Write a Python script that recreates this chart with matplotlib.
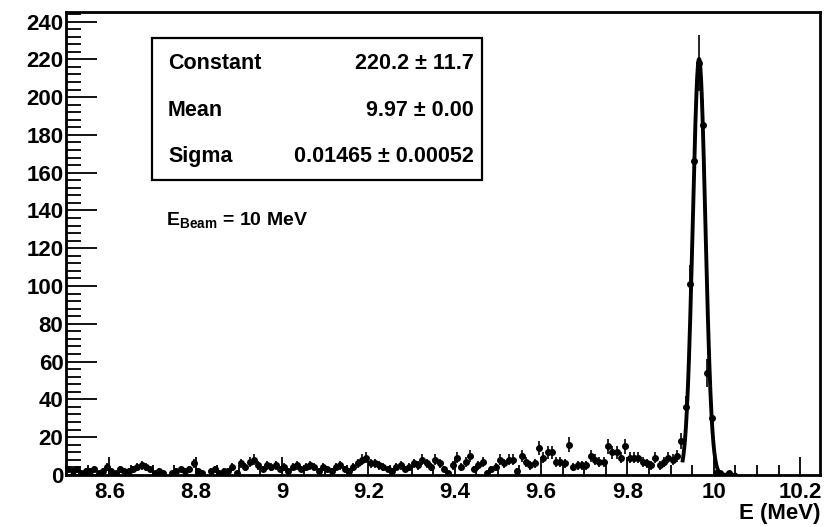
import numpy as np
import matplotlib
matplotlib.use("Agg")
import matplotlib.pyplot as plt
import matplotlib.ticker as ticker
from matplotlib.patches import Rectangle

plt.rcParams['font.family'] = ['Liberation Sans', 'DejaVu Sans']
plt.rcParams['font.weight'] = 'bold'
plt.rcParams['mathtext.fontset'] = 'custom'
plt.rcParams['mathtext.rm'] = 'Liberation Sans:bold'
plt.rcParams['mathtext.bf'] = 'Liberation Sans:bold'

# histogram: 175 bins of 0.01 MeV from 8.5 to 10.25
bin_lo = 8.5
bin_width = 0.01
counts = [
    3, 2, 3, 1, 2, 2, 3, 1, 2, 4,
    2, 1, 3, 2, 2, 3, 4, 5, 4, 3,
    1, 2, 1, 0, 1, 2, 3, 2, 3, 6,
    2, 1, 0, 2, 3, 1, 2, 2, 4, 1,
    6, 4, 7, 8, 5, 3, 5, 4, 5, 3,
    4, 2, 4, 5, 3, 4, 5, 4, 2, 4,
    3, 2, 4, 5, 3, 2, 4, 6, 8, 9,
    6, 6, 5, 4, 3, 2, 4, 5, 3, 4,
    6, 5, 8, 6, 4, 8, 6, 3, 1, 5,
    9, 4, 7, 10, 3, 5, 7, 1, 3, 4,
    8, 6, 8, 8, 2, 10, 7, 5, 6, 14,
    9, 12, 12, 7, 7, 6, 16, 4, 5, 5,
    5, 10, 8, 7, 7, 15, 12, 12, 9, 15,
    9, 9, 9, 7, 6, 5, 9, 5, 7, 9,
    8, 10, 18, 36, 101, 166, 218, 185, 54, 30,
    1, 1, 0, 1, 0, 0, 0, 0, 0, 0,
    0, 0, 0, 0, 0, 0, 0, 0, 0, 0,
    0, 0, 0, 0, 0,
]

# gaussian fit result
fit_const = 220.2
fit_mean = 9.966
fit_sigma = 0.01465
fit_range = (9.928, 10.05)

stats_names = ["Constant", "Mean", "Sigma"]
stats_values = ["220.2 \u00b1 11.7", "9.97 \u00b1 0.00", "0.01465 \u00b1 0.00052"]

counts = np.array(counts, dtype=float)
centers = bin_lo + bin_width * (np.arange(len(counts)) + 0.5)
errors = np.sqrt(counts)

fig = plt.figure(figsize=(8.27, 5.27), dpi=100)
ax = fig.add_axes([0.080, 0.099, 0.912, 0.878])

nz = counts > 0
ax.errorbar(centers[nz], counts[nz], yerr=errors[nz], fmt='o', color='black',
            markersize=4.0, elinewidth=1.2, capsize=0, zorder=3)

xf = np.linspace(fit_range[0], fit_range[1], 600)
yf = fit_const * np.exp(-0.5 * ((xf - fit_mean) / fit_sigma) ** 2)
ax.plot(xf, yf, color='black', linewidth=2.8, zorder=4)

ax.set_xlim(8.5, 10.247)
ax.set_ylim(0, 245)

ax.xaxis.set_major_locator(ticker.MultipleLocator(0.2))
ax.xaxis.set_minor_locator(ticker.MultipleLocator(0.05))
ax.xaxis.set_major_formatter(ticker.FuncFormatter(lambda v, p: f"{v:g}"))
ax.yaxis.set_major_locator(ticker.MultipleLocator(20))
ax.yaxis.set_minor_locator(ticker.MultipleLocator(4))

ax.tick_params(axis='both', which='both', direction='in', labelsize=16, width=1.3)
ax.tick_params(axis='x', which='major', length=13, pad=5)
ax.tick_params(axis='x', which='minor', length=7)
ax.tick_params(axis='y', which='major', length=22, pad=2)
ax.tick_params(axis='y', which='minor', length=11)
for lab in ax.get_xticklabels() + ax.get_yticklabels():
    lab.set_fontweight('bold')
for sp in ax.spines.values():
    sp.set_linewidth(2.0)

ax.set_xlabel("E (MeV)", fontsize=16, fontweight='bold', loc='right', labelpad=0)

# stats box
box = Rectangle((0.114, 0.637), 0.438, 0.307, transform=ax.transAxes,
                facecolor='white', edgecolor='black', linewidth=1.6, zorder=5)
ax.add_patch(box)
row_y = [0.890, 0.788, 0.687]
for name, val, yy in zip(stats_names, stats_values, row_y):
    ax.text(0.135, yy, name, transform=ax.transAxes, fontsize=15.5, fontweight='bold',
            va='center', ha='left', zorder=6)
    ax.text(0.541, yy, val, transform=ax.transAxes, fontsize=15.5, fontweight='bold',
            va='center', ha='right', zorder=6)

ax.text(0.133, 0.548, r"E$_{\mathrm{Beam}}$ = 10 MeV", transform=ax.transAxes,
        fontsize=14, fontweight='bold', va='center', ha='left', zorder=6)

fig.savefig("out.png", dpi=100)
